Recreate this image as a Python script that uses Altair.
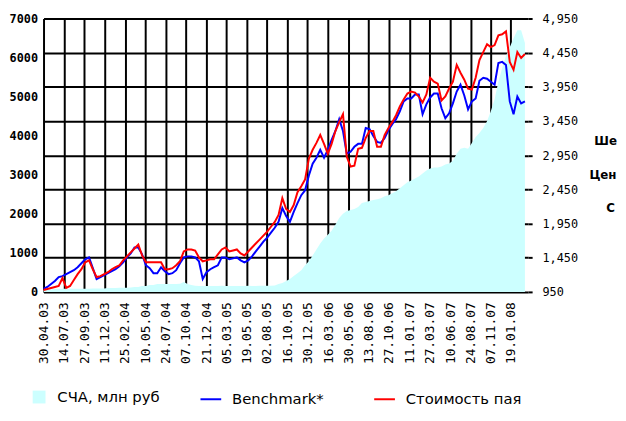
import altair as alt
import pandas as pd

# ---- data ----
start_date = "2003-04-30"
n_points = 128  # one reading every 14 days
dates = pd.date_range(start_date, periods=n_points, freq="14D").strftime("%Y-%m-%d").tolist()

nav = [50, 55, 60, 75, 75, 78, 80, 80, 82, 80,
       78, 80, 82, 85, 85, 88, 90, 100, 100, 102,
       105, 105, 108, 110, 125, 128, 150, 152, 175, 178,
       200, 200, 205, 205, 200, 205, 210, 255, 205, 180,
       155, 150, 150, 152, 150, 150, 152, 155, 150, 150,
       152, 150, 150, 152, 155, 150, 152, 155, 155, 158,
       160, 165, 200, 230, 280, 330, 405, 480, 555, 680,
       785, 935, 1085, 1240, 1365, 1465, 1565, 1720, 1895, 2000,
       2070, 2100, 2125, 2175, 2275, 2300, 2325, 2350, 2375, 2400,
       2450, 2475, 2525, 2580, 2655, 2730, 2805, 2855, 2905, 2955,
       3030, 3110, 3160, 3185, 3185, 3210, 3260, 3285, 3360, 3540,
       3665, 3690, 3665, 3815, 3965, 4070, 4195, 4370, 4625, 4930,
       5385, 5735, 6040, 6265, 6495, 6700, 6700, 6370]

benchmark = [993, 1022, 1066, 1109, 1167, 1181, 1210, 1239, 1268, 1311,
             1369, 1427, 1455, 1297, 1138, 1167, 1195, 1224, 1253, 1282,
             1325, 1383, 1455, 1513, 1600, 1600, 1499, 1340, 1297, 1224,
             1224, 1311, 1253, 1210, 1224, 1268, 1369, 1455, 1470, 1470,
             1455, 1398, 1138, 1239, 1282, 1311, 1340, 1455, 1455, 1427,
             1441, 1455, 1412, 1383, 1412, 1470, 1542, 1614, 1686, 1744,
             1816, 1889, 1975, 2177, 2062, 1975, 2120, 2250, 2365, 2437,
             2654, 2827, 2914, 3029, 2914, 3029, 3174, 3304, 3477, 3304,
             2972, 3000, 3073, 3116, 3116, 3347, 3333, 3232, 3145, 3130,
             3203, 3318, 3405, 3477, 3593, 3737, 3780, 3780, 3838, 3838,
             3549, 3694, 3795, 3852, 3852, 3636, 3491, 3564, 3708, 3881,
             3982, 3824, 3621, 3737, 3780, 4040, 4083, 4069, 4026, 3982,
             4300, 4315, 4271, 3737, 3549, 3809, 3708, 3737]

share_price = [979, 993, 1008, 1022, 1037, 1152, 1008, 1037, 1123, 1210,
               1282, 1383, 1412, 1282, 1167, 1181, 1210, 1239, 1282, 1311,
               1340, 1412, 1470, 1528, 1585, 1643, 1484, 1383, 1383, 1383,
               1383, 1383, 1282, 1282, 1297, 1340, 1398, 1542, 1571, 1571,
               1556, 1455, 1398, 1412, 1427, 1427, 1499, 1571, 1600, 1542,
               1556, 1571, 1513, 1484, 1542, 1600, 1658, 1715, 1773, 1831,
               1903, 1975, 2076, 2322, 2163, 2120, 2221, 2408, 2495, 2596,
               2899, 3029, 3130, 3246, 3116, 2972, 3116, 3304, 3434, 3549,
               2928, 2784, 2798, 3044, 3058, 3203, 3304, 3304, 3073, 3073,
               3246, 3347, 3434, 3535, 3665, 3766, 3852, 3881, 3867, 3809,
               3722, 3838, 4083, 4026, 3997, 3751, 3809, 3925, 4026, 4271,
               4156, 4055, 3925, 3910, 4083, 4343, 4459, 4574, 4531, 4560,
               4704, 4719, 4762, 4314, 4199, 4459, 4372, 4430]

tick_labels = ["30.04.03", "14.07.03", "27.09.03", "11.12.03", "25.02.04", "10.05.04",
               "24.07.04", "07.10.04", "21.12.04", "05.03.05", "19.05.05", "02.08.05",
               "16.10.05", "30.12.05", "16.03.06", "30.05.06", "13.08.06", "27.10.06",
               "11.01.07", "27.03.07", "10.06.07", "24.08.07", "07.11.07", "19.01.08"]
left_ticks = [0, 1000, 2000, 3000, 4000, 5000, 6000, 7000]
right_ticks = [950, 1450, 1950, 2450, 2950, 3450, 3950, 4450, 4950]

area_name = "СЧА, млн руб"
line_names = ["Benchmark*", "Стоимость пая"]
note_lines = ["Ше", "Цен", "С"]  # the parts of the side notes visible in the picture

# ---- tables ----
df_area = pd.DataFrame({"date": dates, "value": nav, "series": area_name})
df_lines = pd.DataFrame({
    "date": dates + dates,
    "value": benchmark + share_price,
    "series": [line_names[0]] * len(dates) + [line_names[1]] * len(dates),
})


def dt(s):
    d, m, y = s.split(".")
    return alt.DateTime(year=2000 + int(y), month=int(m), date=int(d), utc=True)


x_enc = alt.X(
    "date:T",
    scale=alt.Scale(type="utc", domain=[dt("30.04.03"), dt("24.03.08")]),
    axis=alt.Axis(
        values=[dt(s) for s in tick_labels],
        labelExpr="utcFormat(datum.value, '%d.%m.%y')",
        labelAngle=270, labelFont="DejaVu Sans Mono", labelFontSize=13,
        labelColor="black", labelPadding=10, labelOverlap=False, labelFlush=False,
        labelBound=False, ticks=False, tickSize=0, domain=False,
        grid=True, gridColor="black", gridWidth=2, gridOpacity=1, title=None,
    ),
)

area = alt.Chart(df_area).mark_area(opacity=1, interpolate="linear").encode(
    x=x_enc,
    y=alt.Y("value:Q",
            scale=alt.Scale(domain=[0, 7000], nice=False, zero=True),
            axis=alt.Axis(orient="left", values=left_ticks, format="d", grid=False,
                          ticks=False, tickSize=0, domain=False, labelPadding=6,
                          labelFont="DejaVu Sans Mono", labelFontSize=12,
                          labelFontWeight="bold",
                          labelColor="black", title=None)),
    fill=alt.Fill("series:N",
                  scale=alt.Scale(domain=[area_name], range=["#ccffff"]),
                  legend=alt.Legend(orient="none", legendX=-12, legendY=376,
                                    direction="horizontal", title=None, padding=0,
                                    symbolType="square", symbolSize=169,
                                    symbolStrokeWidth=0, labelOffset=11,
                                    labelFont="DejaVu Sans", labelFontSize=15,
                                    labelColor="black")),
)

lines = alt.Chart(df_lines).mark_line(strokeWidth=2).encode(
    x=x_enc,
    y=alt.Y("value:Q",
            scale=alt.Scale(domain=[950, 4950], nice=False, zero=False),
            axis=alt.Axis(orient="right", values=right_ticks, format=",d",
                          grid=True, gridColor="black", gridWidth=2, gridOpacity=1,
                          ticks=True, tickSize=4, tickColor="black", tickWidth=2,
                          domain=False, labelPadding=10,
                          labelFont="DejaVu Sans Mono", labelFontSize=12,
                          labelColor="black", title=None)),
    stroke=alt.Stroke("series:N",
                      scale=alt.Scale(domain=line_names, range=["#0000ff", "#ff0000"]),
                      legend=alt.Legend(orient="none", legendX=158, legendY=374,
                                        direction="horizontal", title=None, padding=0,
                                        symbolType="stroke", symbolSize=441,
                                        symbolStrokeWidth=2, labelOffset=10,
                                        columnPadding=47,
                                        labelFont="DejaVu Sans", labelFontSize=15,
                                        labelColor="black")),
)

note_x = [558, 553, 570]
note_y = [124, 159, 192]
notes = [
    alt.Chart(pd.DataFrame({"t": [txt]})).mark_text(
        align="left", baseline="middle", font="DejaVu Sans", fontSize=12,
        fontWeight="bold", color="black",
    ).encode(text="t:N", x=alt.value(nx), y=alt.value(ny))
    for txt, nx, ny in zip(note_lines, note_x, note_y)
]

chart = alt.layer(area, lines, *notes).resolve_scale(
    y="independent", fill="independent", stroke="independent"
).properties(
    width=491, height=277,
    autosize=alt.AutoSizeParams(type="none"),
    padding={"left": 36, "top": 8, "right": 91, "bottom": 117},
    background="white",
).configure_view(stroke=None)

chart.save("out.html", embed_options={"renderer": "svg", "actions": False})
